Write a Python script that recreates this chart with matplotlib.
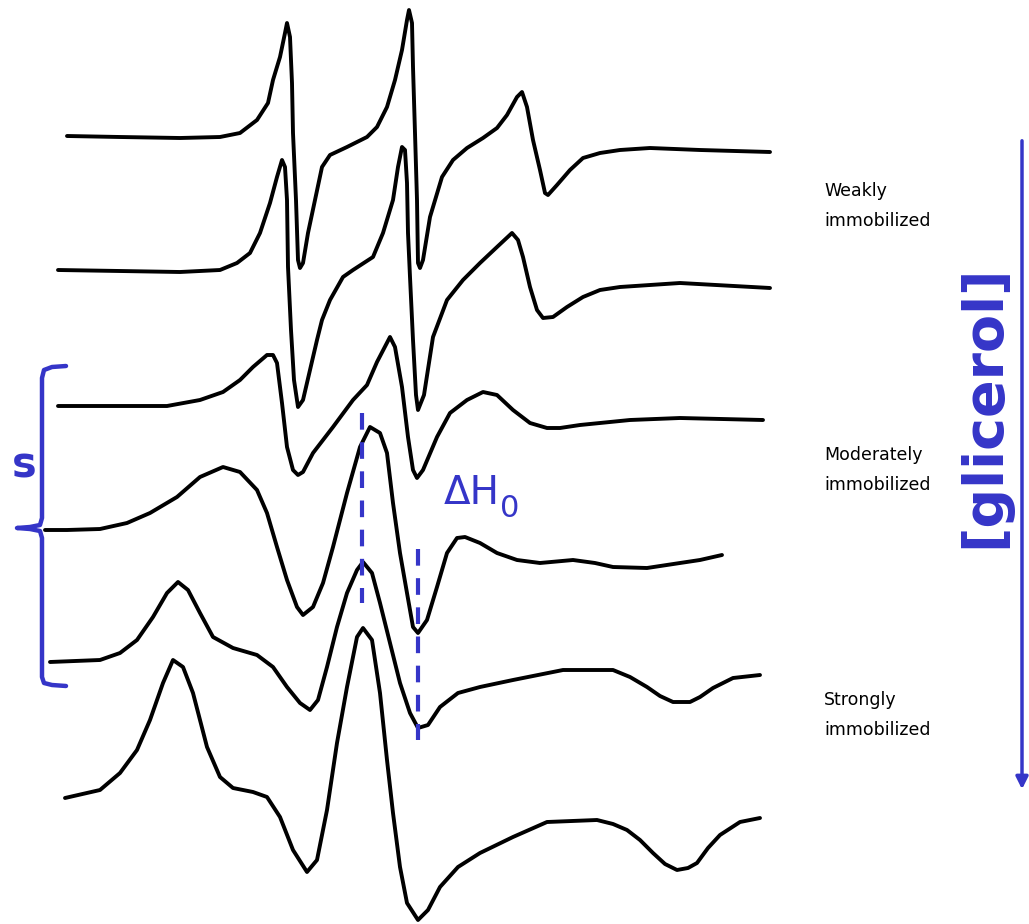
import matplotlib
matplotlib.use("Agg")
import matplotlib.pyplot as plt

# spectra, (x, y) in image pixels, top to bottom
spec1_x = [67, 120, 180, 220, 240, 257, 268, 273, 280, 285, 287, 290, 292, 293, 296, 298, 300, 303, 308, 315, 322,
           330, 347, 367, 377, 387, 395, 402, 407, 409, 412, 413, 415, 417, 418, 420, 423, 430, 442, 453, 467, 483,
           497, 507, 517, 522, 527, 533, 540, 545, 548, 557, 570, 583, 600, 620, 650, 700, 770]
spec1_y = [136, 137, 138, 137, 133, 120, 103, 80, 57, 33, 23, 37, 83, 133, 200, 260, 268, 263, 233, 200, 167,
           155, 147, 137, 127, 107, 80, 50, 20, 10, 23, 67, 133, 200, 263, 268, 260, 217, 177, 160, 148, 138,
           128, 115, 97, 92, 107, 140, 170, 193, 195, 185, 170, 158, 153, 150, 148, 150, 152]

spec2_x = [58, 120, 180, 220, 237, 250, 260, 270, 277, 282, 285, 287, 288, 291, 294, 298, 303, 310, 317, 322, 330,
           343, 353, 373, 383, 393, 398, 402, 405, 407, 408, 410, 413, 416, 418, 424, 433, 447, 463, 480, 497, 512,
           518, 523, 530, 537, 543, 553, 567, 583, 600, 620, 680, 770]
spec2_y = [270, 271, 272, 270, 263, 253, 233, 203, 177, 160, 167, 200, 267, 330, 380, 407, 400, 370, 340, 320, 300,
           277, 270, 257, 233, 200, 167, 147, 150, 183, 233, 277, 340, 395, 410, 395, 337, 300, 280, 263, 247, 233,
           240, 257, 287, 310, 318, 317, 307, 297, 290, 287, 283, 288]

spec3_x = [58, 100, 167, 200, 223, 240, 253, 267, 273, 277, 282, 287, 293, 298, 303, 313, 333, 353, 367, 377, 390,
           395, 402, 408, 413, 417, 423, 437, 450, 467, 483, 497, 513, 530, 547, 560, 580, 630, 680, 763]
spec3_y = [406, 406, 406, 400, 392, 380, 367, 355, 355, 363, 403, 447, 470, 475, 472, 453, 427, 400, 385, 362, 337,
           347, 387, 437, 470, 478, 470, 437, 413, 400, 392, 395, 410, 423, 428, 428, 425, 420, 418, 420]

spec4_x = [45, 67, 100, 127, 150, 177, 200, 223, 240, 257, 267, 277, 287, 297, 303, 313, 323, 333, 347, 360, 370,
           380, 387, 393, 400, 407, 413, 418, 427, 437, 447, 457, 465, 480, 497, 517, 540, 573, 595, 613, 647, 680,
           700, 722]
spec4_y = [530, 530, 529, 523, 513, 497, 477, 467, 472, 490, 513, 547, 580, 607, 615, 607, 583, 547, 493, 447, 427,
           433, 453, 503, 553, 593, 627, 633, 620, 587, 553, 538, 537, 543, 553, 560, 563, 560, 563, 567, 568, 563,
           560, 555]

spec5_x = [50, 100, 120, 137, 153, 167, 178, 188, 200, 213, 233, 257, 273, 287, 300, 310, 318, 327, 337, 347, 357,
           363, 372, 380, 390, 400, 410, 418, 428, 440, 458, 480, 513, 563, 613, 630, 647, 660, 673, 690, 700, 713,
           733, 760]
spec5_y = [662, 660, 653, 640, 617, 593, 582, 590, 613, 637, 648, 655, 667, 687, 703, 710, 700, 667, 627, 593, 570,
           562, 573, 603, 643, 683, 713, 728, 725, 707, 693, 687, 680, 670, 670, 677, 687, 696, 702, 702, 697, 688,
           678, 675]

spec6_x = [65, 100, 120, 137, 150, 163, 173, 183, 193, 207, 220, 233, 253, 267, 280, 293, 307, 317, 327, 337, 347,
           357, 363, 372, 380, 387, 393, 400, 407, 418, 428, 440, 458, 480, 513, 547, 597, 613, 627, 640, 653, 665,
           677, 688, 697, 708, 720, 740, 760]
spec6_y = [798, 790, 773, 750, 720, 683, 660, 667, 693, 747, 777, 788, 792, 797, 817, 850, 872, 860, 810, 743, 687,
           637, 628, 640, 693, 760, 813, 867, 903, 920, 910, 887, 867, 853, 837, 822, 820, 824, 830, 840, 853, 864,
           870, 868, 863, 848, 835, 822, 818]

spectra = [(spec1_x, spec1_y), (spec2_x, spec2_y), (spec3_x, spec3_y),
           (spec4_x, spec4_y), (spec5_x, spec5_y), (spec6_x, spec6_y)]

labels = ["Weakly\nimmobilized", "Moderately\nimmobilized", "Strongly\nimmobilized"]
label_y = [206, 470, 715]

blue = "#3535c8"

fig = plt.figure(figsize=(10.29, 9.24), dpi=100)
ax = fig.add_axes([0, 0, 1, 1])
ax.set_xlim(0, 1029)
ax.set_ylim(924, 0)
ax.axis("off")

for sx, sy in spectra:
    ax.plot(sx, sy, color="black", lw=2.8, solid_joinstyle="round", solid_capstyle="round")

for txt, ly in zip(labels, label_y):
    ax.text(824, ly, txt, fontsize=12.5, color="black", va="center", ha="left", linespacing=1.85)

# bracket "s"
bx = [66, 52, 44, 42, 42, 40, 30, 17, 30, 40, 42, 42, 44, 52, 66]
by = [366, 367, 370, 378, 518, 525, 527, 528, 529, 531, 538, 677, 683, 685, 686]
ax.plot(bx, by, color=blue, lw=3.2, solid_joinstyle="round", solid_capstyle="round")
ax.text(12, 465, "s", color=blue, fontsize=30, fontweight="bold", va="center", ha="left")

# dashed markers for ΔH0
ax.plot([362, 362], [413, 603], color=blue, lw=3, dashes=(4, 3))
ax.plot([418, 418], [549, 740], color=blue, lw=3, dashes=(4, 3))
ax.text(444, 504, "ΔH", color=blue, fontsize=28, va="baseline", ha="left")
ax.text(500, 517, "0", color=blue, fontsize=22, va="baseline", ha="left")

# [glicerol] arrow
ax.annotate("", xy=(1022, 792), xytext=(1022, 138),
            arrowprops=dict(arrowstyle="-|>", color=blue, lw=2.5, mutation_scale=18))
ax.text(984, 406, "[glicerol]", color=blue, fontsize=40, fontweight="bold", rotation=90,
        va="center", ha="center")

fig.savefig("out.png", dpi=100)
